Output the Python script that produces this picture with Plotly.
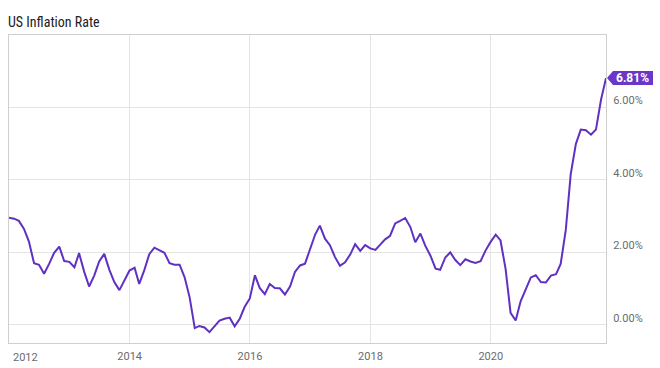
import pandas as pd
import plotly.graph_objects as go

# US CPI year-over-year inflation rate (%), monthly, Dec 2011 - Nov 2021
start_month = "2011-12-31"
v2011 = [2.96]
v2012 = [2.93, 2.87, 2.65, 2.30, 1.70, 1.66, 1.41, 1.69, 1.99, 2.16, 1.76, 1.74]
v2013 = [1.59, 1.98, 1.47, 1.06, 1.36, 1.75, 1.96, 1.52, 1.18, 0.96, 1.24, 1.50]
v2014 = [1.58, 1.13, 1.51, 1.95, 2.13, 2.07, 1.99, 1.70, 1.66, 1.66, 1.32, 0.76]
v2015 = [-0.09, -0.03, -0.07, -0.20, -0.04, 0.12, 0.17, 0.20, -0.04, 0.17, 0.50, 0.73]
v2016 = [1.37, 1.02, 0.85, 1.13, 1.02, 1.01, 0.84, 1.06, 1.46, 1.64, 1.69, 2.07]
v2017 = [2.50, 2.74, 2.38, 2.20, 1.87, 1.63, 1.73, 1.94, 2.23, 2.04, 2.20, 2.11]
v2018 = [2.07, 2.21, 2.36, 2.46, 2.80, 2.87, 2.95, 2.70, 2.28, 2.52, 2.18, 1.91]
v2019 = [1.55, 1.52, 1.86, 2.00, 1.79, 1.65, 1.81, 1.75, 1.71, 1.76, 2.05, 2.29]
v2020 = [2.49, 2.33, 1.54, 0.33, 0.12, 0.65, 0.99, 1.31, 1.37, 1.18, 1.17, 1.36]
v2021 = [1.40, 1.68, 2.62, 4.16, 4.99, 5.39, 5.37, 5.25, 5.39, 6.22, 6.81]

values = v2011 + v2012 + v2013 + v2014 + v2015 + v2016 + v2017 + v2018 + v2019 + v2020 + v2021
dates = pd.date_range(start=start_month, periods=len(values), freq=pd.offsets.MonthEnd())

x_tick_vals = ["2012-01-01", "2014-01-01", "2016-01-01", "2018-01-01", "2020-01-01"]
x_tick_text = ["2012", "2014", "2016", "2018", "2020"]
y_tick_vals = [0, 2, 4, 6]
y_tick_text = ["0.00%", "2.00%", "4.00%", "6.00%"]
y_range = [-0.5, 8.0]
title_text = "US Inflation Rate"

LINE = "#5f31c2"
TAG = "#6a37c8"
GRID = "#e4e4e4"
BORDER = "#cfcfcf"
TICKC = "#6b6b6b"

fig = go.Figure()
fig.add_trace(go.Scatter(x=dates, y=values, mode="lines",
                         line=dict(color=LINE, width=2), hoverinfo="skip"))

last_x = dates[-1]
last_y = values[-1]
last_y_paper = (last_y - y_range[0]) / (y_range[1] - y_range[0])

# value tag at the last point (pixel-sized, anchored in paper coords so it is not clipped)
fig.add_shape(type="path", xref="paper", yref="paper", xsizemode="pixel", ysizemode="pixel",
              xanchor=1, yanchor=last_y_paper,
              path="M 1 0 L 7 7 L 47 7 L 47 -7 L 7 -7 Z",
              fillcolor=TAG, line=dict(width=0), layer="above")
fig.add_annotation(x=1, y=last_y_paper, xref="paper", yref="paper", text=f"<b>{last_y:.2f}%</b>",
                   showarrow=False, xanchor="left", yanchor="middle", xshift=8, yshift=0,
                   font=dict(family="Roboto", size=12, color="white"))

fig.add_annotation(x=0, y=1, xref="paper", yref="paper", text=title_text, showarrow=False,
                   xanchor="left", yanchor="bottom", xshift=-3, yshift=3,
                   font=dict(family="Roboto Condensed, DejaVu Sans Condensed, Roboto", size=14,
                             color="#222222"))

# first year label sits inside the plot's left edge
fig.add_annotation(x=x_tick_vals[0], y=0, xref="x", yref="paper", text=x_tick_text[0],
                   showarrow=False, xanchor="left", yanchor="top", xshift=2, yshift=-6,
                   font=dict(family="Roboto", size=11, color=TICKC))

fig.update_layout(
    width=660, height=368,
    margin=dict(l=9, r=54, t=35, b=25, autoexpand=False),
    paper_bgcolor="white", plot_bgcolor="white",
    showlegend=False,
    xaxis=dict(range=[dates[0], dates[-1]], tickvals=x_tick_vals,
               ticktext=[""] + x_tick_text[1:], automargin=False,
               showgrid=True, gridcolor=GRID, gridwidth=1, zeroline=False,
               showline=True, linecolor=BORDER, linewidth=1, mirror=True,
               ticks="", ticklabelstandoff=3,
               tickfont=dict(family="Roboto", size=11, color=TICKC)),
    yaxis=dict(range=y_range, tickvals=y_tick_vals, ticktext=y_tick_text, side="right",
               automargin=False,
               showgrid=True, gridcolor=GRID, gridwidth=1, zeroline=False,
               showline=True, linecolor=BORDER, linewidth=1, mirror=True,
               ticks="", ticklabelshift=-7, ticklabelstandoff=4,
               tickfont=dict(family="Roboto", size=11, color=TICKC)),
)

fig.write_html("out.html", config={"displayModeBar": False},
               post_script="document.body.style.margin='0';document.body.style.padding='0';")
